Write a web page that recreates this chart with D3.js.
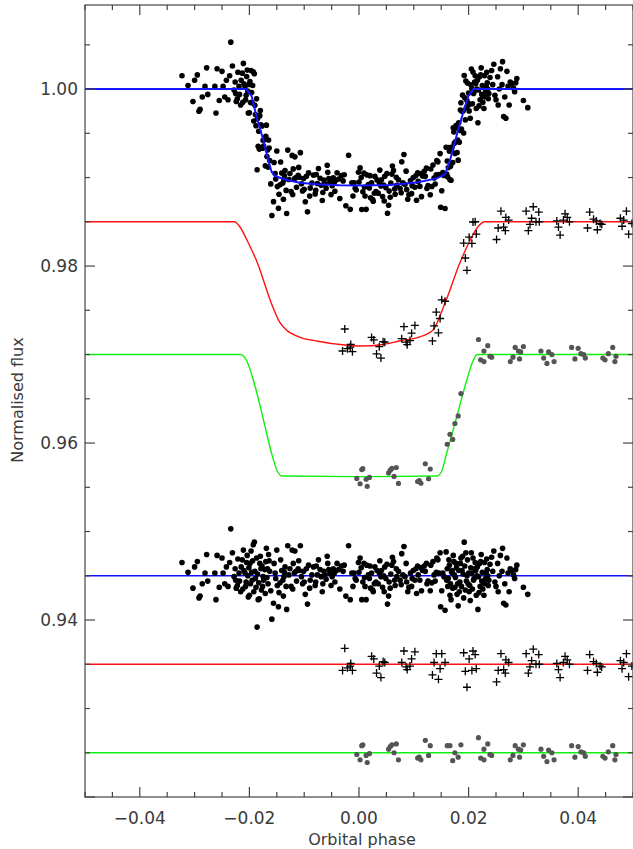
<!DOCTYPE html>
<html>
<head>
<meta charset="utf-8">
<script src="https://d3js.org/d3.v7.min.js"></script>
<style>
  body { margin: 0; background: #fff; }
  text { font-family: "DejaVu Sans", sans-serif; fill: #3a3a3a; }
</style>
</head>
<body>
<div id="chart"></div>
<script>
// axis ticks
var phaseTicks = [-0.04, -0.02, 0.00, 0.02, 0.04];
var fluxTicks = [0.94, 0.96, 0.98, 1.00];

// fitted models as [phase, flux] knots
var blueModel = [[-0.05,1],[-0.0206,1],[-0.0196,0.99922],[-0.01869,0.99687],[-0.01747,0.99424],[-0.01656,0.99198],
  [-0.01595,0.99066],[-0.01534,0.99017],[-0.0132,0.98973],[-0.01078,0.98942],[-0.00773,0.98924],[-0.0035,0.98913],
  [0.0002,0.98909],[0.00566,0.98917],[0.01054,0.98943],[0.01419,0.98991],[0.01571,0.9904],[0.01662,0.99198],
  [0.01784,0.9948],[0.01905,0.99744],[0.01997,0.99922],[0.02088,1],[0.05,1]];
var redModel = [[-0.05,0.985],[-0.0228,0.985],[-0.0218,0.9845],[-0.0205,0.9830],[-0.0185,0.9803],[-0.0160,0.9758],
  [-0.0145,0.9737],[-0.0133,0.9728],[-0.0110,0.9720],[-0.0075,0.9715],[-0.0030,0.9711],[0.0005,0.97096],
  [0.0040,0.9711],[0.0075,0.97156],[0.0111,0.9720],[0.0135,0.97277],[0.0157,0.97582],[0.0184,0.98034],
  [0.0203,0.98294],[0.0217,0.98444],[0.0230,0.985],[0.05,0.985]];
var greenModel = [[-0.05,0.970],[-0.0216,0.970],[-0.0205,0.9693],[-0.0190,0.9665],[-0.0172,0.9620],[-0.0158,0.9585],
  [-0.0148,0.9567],[-0.0140,0.95627],[0.0,0.9562],[0.0142,0.95627],[0.0150,0.9567],[0.0160,0.95884],
  [0.01784,0.96297],[0.01967,0.96712],[0.02088,0.96938],[0.0216,0.970],[0.05,0.970]];

// baselines of the residual curves
var blueResBase = 0.945, redResBase = 0.935, greenResBase = 0.925;

// residuals [phase, residual], both in units of 1e-4
var blueRes = [[-323,15],[-312,4],[-303,-14],[-300,10],[-295,16],[-290,-23],[-292,-25],[-286,-9],[-281,3],[-278,24],
  [-276,-6],[-263,3],[-261,-27],[-259,23],[-255,-13],[-250,20],[-248,3],[-245,-9],[-242,10],[-239,-12],[-236,15],
  [-234,53],[-231,26],[-228,-1],[-225,-5],[-222,-11],[-219,3],[-216,-18],[-213,18],[-211,29],[-208,3],[-206,-7],
  [-204,23],[-202,-24],[-200,-22],[-199,14],[-197,28],[-195,-5],[-193,35],[-191,38],[-190,5],[-188,-13],[-186,-58],
  [-184,-27],[-182,-26],[-181,14],[-179,8],[-176,-12],[-175,-1],[-172,7],[-169,31],[-167,8],[-164,17],[-163,5],
  [-161,-17],[-159,-49],[-156,-31],[-155,14],[-153,3],[-152,-3],[-150,29],[-149,-11],[-147,-35],[-146,-19],[-143,18],
  [-141,6],[-139,-5],[-138,-23],[-137,-1],[-135,10],[-133,-12],[-132,-38],[-130,34],[-128,1],[-126,8],[-124,-12],
  [-122,29],[-120,14],[-118,3],[-117,28],[-115,5],[-114,-6],[-111,8],[-109,6],[-107,34],[-105,-1],[-103,-9],
  [-100,-7],[-98,-21],[-96,8],[-94,-32],[-92,12],[-89,-5],[-86,1],[-83,10],[-80,-11],[-79,-7],[-76,1],[-74,18],
  [-71,7],[-69,-1],[-66,-9],[-64,5],[-62,1],[-60,-4],[-57,14],[-55,7],[-53,3],[-51,-11],[-49,-1],[-47,8],[-45,3],
  [-43,5],[-40,14],[-37,7],[-32,11],[-29,5],[-24,-23],[-19,34],[-16,-27],[-13,3],[-9,3],[-7,-3],[-5,-5],[-1,15],
  [2,20],[4,9],[5,-27],[7,-7],[9,14],[11,-12],[13,-27],[14,12],[17,1],[19,-3],[21,-14],[23,3],[25,-16],[26,-18],
  [29,10],[31,-7],[33,6],[35,-9],[37,3],[40,-1],[41,6],[43,-13],[46,-18],[47,10],[49,-3],[51,13],[52,-32],[54,-23],
  [55,-7],[58,2],[60,12],[61,21],[63,16],[65,-5],[66,-11],[69,-1],[72,5],[75,-5],[78,25],[80,1],[82,33],[84,-1],
  [87,-7],[89,-18],[91,-13],[94,3],[96,-12],[99,6],[102,-5],[104,8],[107,11],[108,1],[111,-5],[114,-17],[116,6],
  [119,11],[121,5],[124,-9],[126,-6],[130,-17],[131,12],[135,16],[137,1],[139,-6],[142,20],[144,18],[146,3],
  [148,26],[149,-35],[151,-17],[153,3],[155,-1],[157,-39],[159,27],[160,-5],[162,-12],[164,18],[166,-22],[168,-27],
  [170,6],[172,23],[174,1],[175,-13],[177,14],[180,-9],[181,-34],[183,-18],[186,20],[188,6],[189,22],[192,38],
  [194,-16],[195,26],[197,0],[199,-9],[201,-18],[203,-28],[205,26],[206,3],[209,-5],[211,8],[212,15],[215,0],
  [217,-38],[219,-19],[220,14],[222,16],[224,-6],[226,-15],[228,-22],[230,-9],[232,3],[234,7],[236,-11],[237,-5],
  [239,13],[242,21],[244,5],[246,28],[248,-7],[250,-12],[253,14],[254,-18],[256,0],[258,23],[261,5],[262,31],
  [264,-31],[266,-9],[268,-33],[270,20],[272,3],[274,-18],[276,8],[279,6],[282,1],[284,-3],[286,7],[288,12],
  [300,-13],[308,-21],
  // denser parts of ingress, egress and the flat bottom
  [-226,8],[-224,-14],[-221,19],[-218,-6],[-215,10],[-212,-15],[-210,6],[-207,-12],[-205,15],[-203,0],[-201,9],
  [-198,-9],[-196,4],[-194,17],[-192,-18],[-189,-3],[-187,20],[-185,2],[-183,-8],[-180,22],[-178,-16],[-177,11],
  [-174,-5],[-171,-20],[-170,16],[-168,-2],[-166,-9],[-165,24],[-144,-8],[-136,4],[-121,-15],[-110,17],[-101,5],
  [-90,-14],[-78,11],[-67,-18],[-58,22],[-44,-7],[-35,-15],[-27,12],[-11,-12],[0,4],[10,-2],[20,11],[28,-9],
  [38,17],[45,0],[57,-14],[68,8],[77,-10],[86,14],[97,-3],[105,-20],[113,9],[123,14],[133,-8],[141,4],
  [161,8],[163,-3],[165,12],[167,-9],[169,4],[171,-14],[173,16],[176,-2],[178,9],[179,-21],[182,6],[184,-7],
  [185,14],[187,-12],[190,2],[191,-25],[193,11],[196,-6],[198,18],[200,3],[202,-11],[204,9],[207,-15],[208,20],
  [210,-3],[213,6],[214,-22],[216,10],[218,-1],[221,-12],[223,24],[225,4],[227,-8],[229,15],[231,-3],[233,19],[235,0]];
var redRes = [[-26,18],[-15,1],[-30,-7],[-21,-4],[-12,-7],[-16,-2],
  [23,9],[27,6],[37,-2],[32,-10],[40,-15],[44,3],[47,2],
  [82,15],[102,14],[96,6],[78,2],[88,-6],[93,-2],[86,-3],
  [141,12],[151,12],[137,2],[157,2],[148,-5],[134,-12],[145,-17],
  [191,13],[208,15],[212,11],[201,6],[214,-5],[194,-8],[206,-7],[197,-26],
  [259,12],[268,5],[273,2],[254,-7],[264,-6],[267,-10],[251,-20],
  [305,12],[318,17],[328,11],[315,4],[312,-3],[309,-10],[323,0],[329,0],
  [361,1],[376,9],[380,5],[384,0],[364,-6],[367,-15],[373,2],
  [421,11],[428,3],[433,1],[440,-2],[417,-7],[435,-9],[443,-3],
  [477,4],[488,12],[483,2],[480,-5],[492,-14],[498,-2]];
var greenRes = [[-4,-2],[7,9],[5,8],[13,-3],[2,-8],[15,-11],[19,-1],
  [54,4],[60,9],[68,10],[64,0],[72,-8],[57,7],
  [107,-6],[113,-8],[121,14],[130,8],[127,-3],[110,-5],
  [161,8],[166,8],[175,0],[186,9],[181,-5],[171,-9],
  [218,17],[235,10],[228,4],[239,-2],[242,-3],[222,-6],[228,-8],
  [285,8],[291,4],[300,9],[295,3],[281,-3],[293,-5],[276,-8],
  [332,4],[346,3],[352,0],[356,-8],[337,-4],[343,-10],
  [388,8],[400,7],[405,1],[410,0],[394,-5],[413,-4],
  [455,1],[463,8],[469,-2],[449,-6],[445,-4],[467,-8]];

var W = 633, H = 849;
var pL = 85, pR = 633, pT = 5, pB = 797;

var svg = d3.select("#chart").append("svg")
  .attr("width", W).attr("height", H);

var x = d3.scaleLinear().domain([-0.05, 0.05]).range([pL, pR]);
var y = d3.scaleLinear().domain([0.92, 1.0095]).range([pB, pT]);

svg.append("clipPath").attr("id", "clip")
  .append("rect").attr("x", pL).attr("y", pT).attr("width", pR - pL).attr("height", pB - pT);
var plot = svg.append("g").attr("clip-path", "url(#clip)");

// model as piecewise-linear scale for putting the points on top of it
function modelScale(knots) {
  return d3.scaleLinear().domain(knots.map(function(d) { return d[0]; }))
    .range(knots.map(function(d) { return d[1]; }));
}
var blueM = modelScale(blueModel), redM = modelScale(redModel), greenM = modelScale(greenModel);

function toData(res, m) {
  return res.map(function(d) { var p = d[0] / 1e4; return [p, m(p) + d[1] / 1e4]; });
}
function toRes(res, base) {
  return res.map(function(d) { return [d[0] / 1e4, base + d[1] / 1e4]; });
}

var line = d3.line().x(function(d) { return x(d[0]); }).y(function(d) { return y(d[1]); });
var smooth = d3.line().curve(d3.curveMonotoneX).x(function(d) { return x(d[0]); }).y(function(d) { return y(d[1]); });

function drawLine(data, color, w, gen) {
  plot.append("path").datum(data).attr("d", gen || line)
    .attr("fill", "none").attr("stroke", color).attr("stroke-width", w);
}
function drawDots(data, color, r) {
  plot.append("g").selectAll("circle").data(data).enter().append("circle")
    .attr("cx", function(d) { return x(d[0]); })
    .attr("cy", function(d) { return y(d[1]); })
    .attr("r", r).attr("fill", color);
}
function drawCrosses(data) {
  plot.append("g").selectAll("path").data(data).enter().append("path")
    .attr("d", function(d) {
      var cx = x(d[0]), cy = y(d[1]), s = 4;
      return "M" + (cx - s) + "," + cy + "H" + (cx + s) + "M" + cx + "," + (cy - s) + "V" + (cy + s);
    })
    .attr("stroke", "#000").attr("stroke-width", 1.3).attr("fill", "none");
}

// residual lines
drawLine([[-0.05, blueResBase], [0.05, blueResBase]], "#1010ff", 1.6);
drawLine([[-0.05, redResBase], [0.05, redResBase]], "#ff1010", 1.6);
drawLine([[-0.05, greenResBase], [0.05, greenResBase]], "#10f010", 1.6);

// light curves
drawLine(redModel, "#ff1010", 1.4, smooth);
drawLine(greenModel, "#10f010", 1.4, smooth);
drawDots(toData(blueRes, blueM), "#000", 2.8);
drawLine(blueModel, "#1515ff", 2);
drawCrosses(toData(redRes, redM));
drawDots(toData(greenRes, greenM), "#555", 2.6);

// residual points
drawDots(toRes(blueRes, blueResBase), "#000", 2.8);
drawCrosses(toRes(redRes, redResBase));
drawDots(toRes(greenRes, greenResBase), "#555", 2.6);

// frame + ticks
var axisColor = "#444";
var frame = svg.append("g").attr("stroke", axisColor).attr("fill", "none").attr("stroke-width", 1.2);
frame.append("rect").attr("x", pL).attr("y", pT).attr("width", pR - pL).attr("height", pB - pT);

var xMinor = d3.range(-0.05, 0.0501, 0.005), yMinor = d3.range(0.92, 1.0096, 0.005);
function isMajor(v, step) { return Math.abs(v / step - Math.round(v / step)) < 1e-6; }

xMinor.forEach(function(v) {
  var len = isMajor(v, 0.02) ? 10 : 5;
  frame.append("line").attr("x1", x(v)).attr("x2", x(v)).attr("y1", pB).attr("y2", pB - len);
  frame.append("line").attr("x1", x(v)).attr("x2", x(v)).attr("y1", pT).attr("y2", pT + len);
});
yMinor.forEach(function(v) {
  var len = isMajor(v, 0.02) ? 10 : 5;
  frame.append("line").attr("y1", y(v)).attr("y2", y(v)).attr("x1", pL).attr("x2", pL + len);
  frame.append("line").attr("y1", y(v)).attr("y2", y(v)).attr("x1", pR).attr("x2", pR - len);
});

svg.append("g").selectAll("text").data(phaseTicks).enter().append("text")
  .attr("x", function(d) { return x(d); }).attr("y", 824)
  .attr("text-anchor", "middle").style("font-size", "17px")
  .text(function(d) { return d3.format(".2f")(d).replace("-", "\u2212"); });

svg.append("g").selectAll("text").data(fluxTicks).enter().append("text")
  .attr("x", 78).attr("y", function(d) { return y(d); })
  .attr("dy", "0.35em").attr("text-anchor", "end").style("font-size", "17px")
  .text(function(d) { return d3.format(".2f")(d); });

svg.append("text").attr("x", 362).attr("y", 845).attr("text-anchor", "middle")
  .style("font-size", "16px").text("Orbital phase");
svg.append("text").attr("transform", "translate(23,400) rotate(-90)").attr("text-anchor", "middle")
  .style("font-size", "16px").text("Normalised flux");
</script>
</body>
</html>
